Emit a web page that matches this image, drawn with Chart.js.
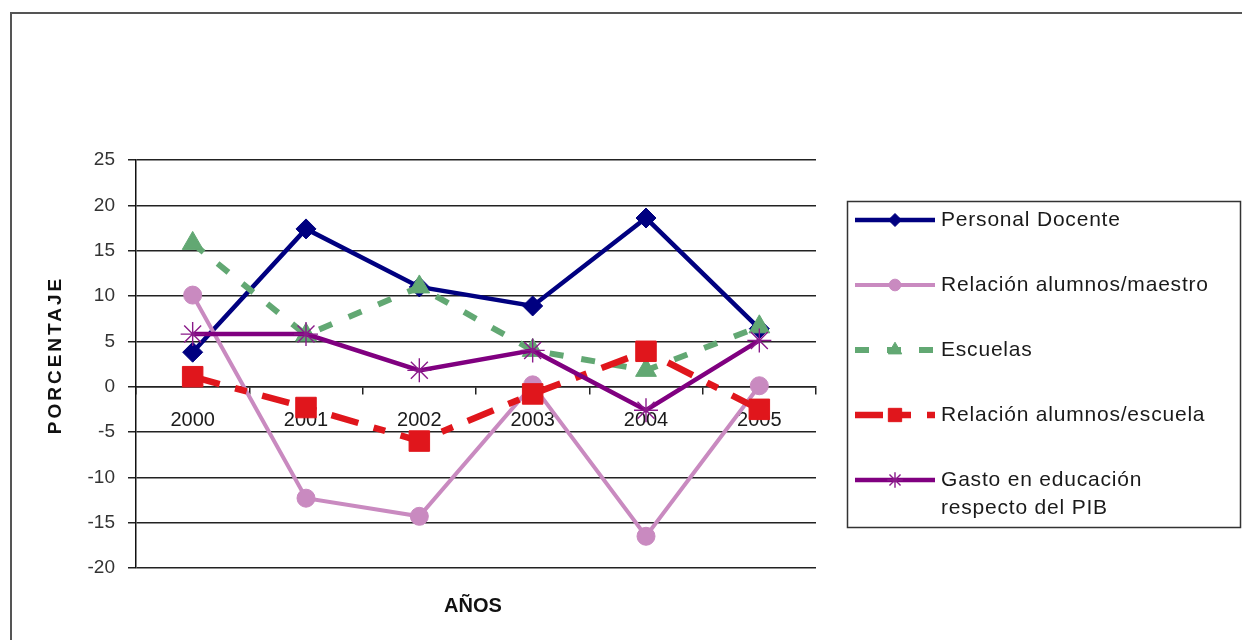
<!DOCTYPE html>
<html>
<head>
<meta charset="utf-8">
<title>Indicadores educativos 2000-2005</title>
<script src="https://cdn.jsdelivr.net/npm/chart.js@4.4.1/dist/chart.umd.min.js"></script>
<style>
  html, body { margin: 0; padding: 0; background: #fff; overflow: hidden; }
  #wrap { position: relative; width: 1242px; height: 640px; }
  canvas { display: block; }
</style>
</head>
<body>
<div id="wrap"><canvas id="chart" width="1242" height="640"></canvas></div>
<script>
// Años (categorías del eje X)
const years = ['2000', '2001', '2002', '2003', '2004', '2005'];

// Variación porcentual anual de cada indicador
const personalDocente = [3.8, 17.4, 11.0, 8.9, 18.6, 6.4];
const alumnosMaestro  = [10.1, -12.3, -14.3, 0.2, -16.5, 0.1];
const escuelas        = [15.8, 5.7, 11.0, 4.0, 1.8, 6.6];
const alumnosEscuela  = [1.1, -2.3, -6.0, -0.8, 3.9, -2.5];
const gastoPIB        = [5.8, 5.8, 1.8, 4.0, -2.6, 5.1];

// Marcas del eje Y
const yTicks = [25, 20, 15, 10, 5, 0, -5, -10, -15, -20];

// Nombres de las series (la última ocupa dos renglones en la leyenda)
const seriesNames = [
  'Personal Docente',
  'Relación alumnos/maestro',
  'Escuelas',
  'Relación alumnos/escuela',
  ['Gasto en educación', 'respecto del PIB']
];

const FONT = "'Liberation Sans', Arial, Helvetica, sans-serif";

// Marco exterior (bordes izquierdo y superior)
const framePlugin = {
  id: 'frame',
  beforeDraw(chart) {
    const ctx = chart.ctx;
    ctx.save();
    ctx.fillStyle = '#fff';
    ctx.fillRect(0, 0, chart.width, chart.height);
    ctx.strokeStyle = '#555';
    ctx.lineWidth = 2;
    ctx.beginPath();
    ctx.moveTo(11, chart.height);
    ctx.lineTo(11, 13);
    ctx.lineTo(chart.width, 13);
    ctx.stroke();
    ctx.restore();
  }
};

// Títulos de los ejes, con espaciado entre letras
const axisTitlePlugin = {
  id: 'axisTitles',
  afterDraw(chart) {
    const ctx = chart.ctx;
    const area = chart.chartArea;
    ctx.save();
    ctx.fillStyle = '#111';
    ctx.textAlign = 'center';
    ctx.textBaseline = 'middle';

    ctx.save();
    ctx.font = 'bold 19px ' + FONT;
    ctx.letterSpacing = '3px';
    ctx.translate(56, 355);
    ctx.rotate(-Math.PI / 2);
    ctx.fillText('PORCENTAJE', 0, 0);
    ctx.restore();

    ctx.font = 'bold 20px ' + FONT;
    ctx.letterSpacing = '0px';
    ctx.fillText('AÑOS', (area.left + area.right) / 2 - 3, 606);
    ctx.restore();
  }
};

// Leyenda lateral: muestra de línea con su marcador y el nombre de la serie
const sideLegendPlugin = {
  id: 'sideLegend',
  afterDraw(chart) {
    const ctx = chart.ctx;
    const box = { left: 847, top: 201, right: 1240, bottom: 527 };
    const rowY = [220, 285, 350, 415, 480];
    const lineX0 = 855, lineX1 = 935, markX = 895, textX = 941;

    ctx.save();
    ctx.strokeStyle = '#333';
    ctx.lineWidth = 1.5;
    ctx.strokeRect(box.left + 0.5, box.top + 0.5, box.right - box.left, box.bottom - box.top);

    chart.data.datasets.forEach((ds, i) => {
      const y = rowY[i];
      ctx.save();
      ctx.strokeStyle = ds.borderColor;
      ctx.lineWidth = ds.borderWidth;
      ctx.setLineDash(ds.borderDash || []);
      ctx.lineCap = 'butt';
      ctx.beginPath();
      ctx.moveTo(lineX0, y);
      ctx.lineTo(lineX1, y);
      ctx.stroke();
      ctx.setLineDash([]);
      ctx.fillStyle = ds.pointBackgroundColor;
      ctx.strokeStyle = ds.pointBorderColor;
      ctx.lineWidth = ds.pointBorderWidth;
      Chart.helpers.drawPoint(ctx, {
        pointStyle: ds.pointStyle,
        radius: ds.pointRadius * 0.65,
        borderWidth: ds.pointBorderWidth,
        rotation: 0
      }, markX, y);
      ctx.restore();

      ctx.save();
      ctx.fillStyle = '#1a1a1a';
      ctx.font = '21px ' + FONT;
      ctx.letterSpacing = '0.8px';
      ctx.textAlign = 'left';
      ctx.textBaseline = 'middle';
      const lines = Array.isArray(seriesNames[i]) ? seriesNames[i] : [seriesNames[i]];
      lines.forEach((t, k) => ctx.fillText(t, textX, y + k * 28));
      ctx.restore();
    });
    ctx.restore();
  }
};

function series(label, data, color, opts) {
  return Object.assign({
    label: label,
    data: data,
    borderColor: color,
    backgroundColor: color,
    pointBackgroundColor: color,
    pointBorderColor: color,
    pointBorderWidth: 1,
    fill: false,
    tension: 0
  }, opts);
}

const datasets = [
  series(seriesNames[0], personalDocente, '#000080', {
    borderWidth: 4.5, pointStyle: 'rectRot', pointRadius: 10, order: 0
  }),
  series(seriesNames[1], alumnosMaestro, '#c98ac0', {
    borderWidth: 4, pointStyle: 'circle', pointRadius: 9, order: -1
  }),
  series(seriesNames[2], escuelas, '#62a873', {
    borderWidth: 6, borderDash: [14, 18], pointStyle: 'triangle', pointRadius: 12, order: -2
  }),
  series(seriesNames[3], alumnosEscuela, '#e0161c', {
    borderWidth: 6.5, borderDash: [28, 16, 12, 16], pointStyle: 'rect', pointRadius: 14.5, order: -3
  }),
  series(seriesNames[4].join(' '), gastoPIB, '#800080', {
    borderWidth: 4.5, pointStyle: 'star', pointRadius: 12, pointBorderWidth: 1.4,
    pointBackgroundColor: 'rgba(0,0,0,0)', pointBorderColor: '#8a1a8a', order: -4
  })
];

new Chart(document.getElementById('chart'), {
  type: 'line',
  data: { labels: years, datasets: datasets },
  options: {
    responsive: false,
    animation: false,
    devicePixelRatio: 1,
    layout: { padding: { left: 0, top: 160, right: 426, bottom: 72 } },
    plugins: {
      legend: { display: false },
      tooltip: { enabled: false },
      title: { display: false }
    },
    scales: {
      x: {
        type: 'category',
        position: { y: 0 },
        offset: true,
        z: 1,
        grid: {
          display: true,
          offset: true,
          drawOnChartArea: false,
          drawTicks: true,
          tickLength: 7,
          color: '#222',
          lineWidth: 1.5
        },
        border: { display: true, color: '#222', width: 1.5 },
        ticks: {
          color: '#1a1a1a',
          font: { family: FONT, size: 20 },
          padding: 15,
          maxRotation: 0,
          autoSkip: false
        }
      },
      y: {
        min: -20,
        max: 25,
        afterBuildTicks(scale) {
          scale.ticks = yTicks.map(v => ({ value: v }));
        },
        afterFit(scale) { scale.width = 136; },
        grid: {
          color: '#222',
          lineWidth: 1.5,
          drawTicks: true,
          tickLength: 8
        },
        border: { display: true, color: '#111', width: 1.5 },
        ticks: {
          color: '#333',
          font: { family: FONT, size: 19 },
          padding: 13
        }
      }
    }
  },
  plugins: [framePlugin, axisTitlePlugin, sideLegendPlugin]
});
</script>
</body>
</html>
